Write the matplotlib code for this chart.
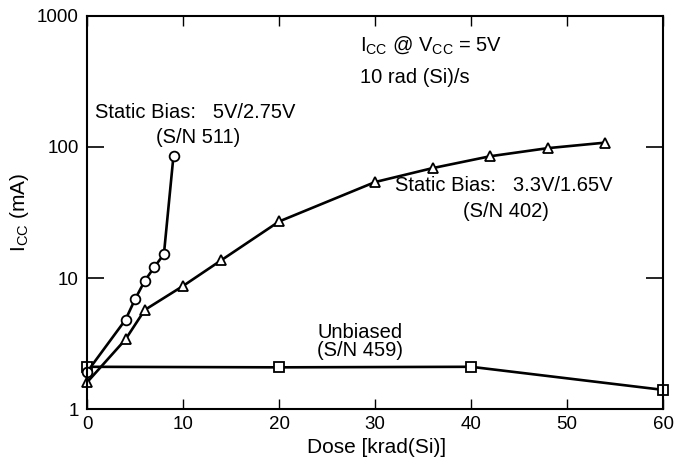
from matplotlib import pyplot as plt
import numpy as np

plt.rcParams['font.family'] = ['Liberation Sans', 'DejaVu Sans']

# S/N 511, static bias 5V/2.75V
dose_511 = [0, 4, 5, 6, 7, 8, 9]
icc_511 = [1.92, 4.8, 6.9, 9.5, 12.1, 15.2, 86]

# S/N 402, static bias 3.3V/1.65V
dose_402 = [0, 4, 6, 10, 14, 20, 30, 36, 42, 48, 54]
icc_402 = [1.6, 3.4, 5.7, 8.7, 13.7, 27, 54, 69, 85, 98, 108]

# S/N 459, unbiased
dose_459 = [0, 20, 40, 60]
icc_459 = [2.1, 2.08, 2.1, 1.4]

fig = plt.figure(figsize=(6.86, 4.66), dpi=100)
ax = fig.add_axes([0.127, 0.1223, 0.8395, 0.8434])

mk = dict(color="black", lw=1.9, mfc="white", mec="black", mew=1.3, ms=7, clip_on=False)
ax.plot(dose_459, icc_459, marker="s", **mk)
ax.plot(dose_402, icc_402, marker="^", **mk)
ax.plot(dose_511, icc_511, marker="o", **mk)

ax.set_yscale("log")
ax.set_xlim(0, 60)
ax.set_ylim(1, 1000)
ax.set_xticks([0, 10, 20, 30, 40, 50, 60])
ax.set_yticks([1, 10, 100, 1000])
ax.set_yticklabels(["1", "10", "100", "1000"])
ax.minorticks_off()
ax.tick_params(axis="x", direction="in", length=7, width=1, top=True, labelsize=13.5, pad=5)
ax.tick_params(axis="y", direction="in", length=12, width=1.2, right=True, labelsize=13.5, pad=6)
for s in ax.spines.values():
    s.set_linewidth(1.5)

ax.set_xlabel("Dose [krad(Si)]", fontsize=15)
ax.xaxis.set_label_coords(0.503, -0.075)
ax.set_ylabel("I$_{\\mathregular{CC}}$ (mA)", fontsize=15)
ax.yaxis.set_label_coords(-0.097, 0.5)

fs = 14.5
ax.text(28.4, 600, "I$_{\\mathregular{CC}}$ @ V$_{\\mathregular{CC}}$ = 5V", fontsize=fs, va="center")
ax.text(28.4, 342, "10 rad (Si)/s", fontsize=fs, va="center")
ax.text(0.8, 182, "Static Bias:   5V/2.75V", fontsize=fs, va="center")
ax.text(11.6, 119, "(S/N 511)", fontsize=fs, va="center", ha="center")
ax.text(32.1, 51, "Static Bias:   3.3V/1.65V", fontsize=fs, va="center")
ax.text(43.6, 32, "(S/N 402)", fontsize=fs, va="center", ha="center")
ax.text(24.0, 3.87, "Unbiased", fontsize=fs, va="center")
ax.text(23.9, 2.82, "(S/N 459)", fontsize=fs, va="center")

fig.savefig("out.png", dpi=100)
